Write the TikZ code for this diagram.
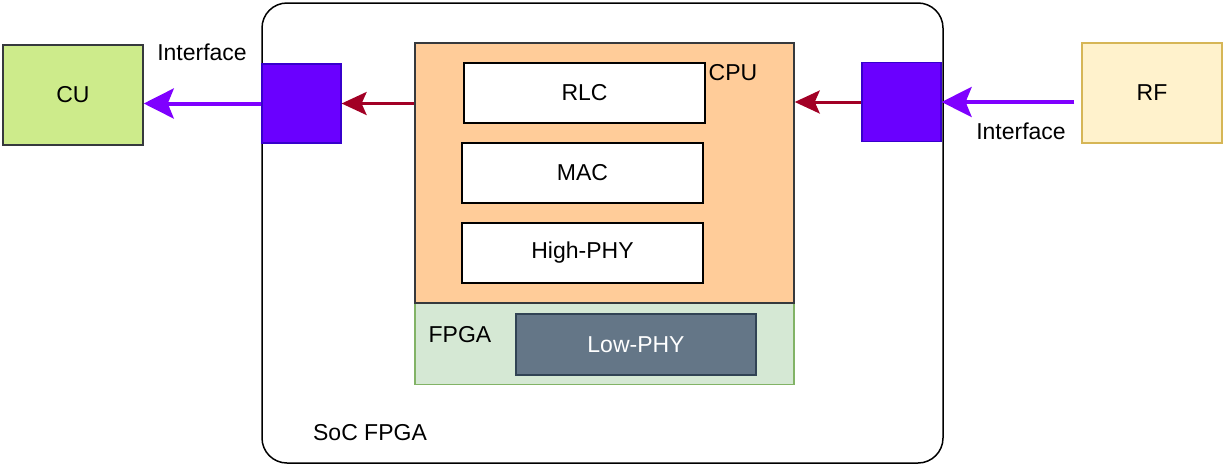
\documentclass[tikz,border=0pt]{standalone}
\usepackage{fontspec}
\setmainfont{Liberation Sans}
\usetikzlibrary{arrows.meta}
\definecolor{cugreen}{HTML}{CDEB8B}
\definecolor{darkline}{HTML}{36393D}
\definecolor{cpuorange}{HTML}{FFCC99}
\definecolor{fpgagreen}{HTML}{D5E8D4}
\definecolor{fpgaline}{HTML}{82B366}
\definecolor{lowfill}{HTML}{647687}
\definecolor{lowline}{HTML}{314354}
\definecolor{rffill}{HTML}{FFF2CC}
\definecolor{rfline}{HTML}{D6B656}
\definecolor{ifblue}{HTML}{6A00FF}
\definecolor{ifline}{HTML}{3700CC}
\definecolor{ifarrow}{HTML}{7F00FF}
\definecolor{redarrow}{HTML}{A20025}
\tikzset{
  blk/.style={draw=darkline, line width=1.5pt, minimum width=#1, inner sep=0pt},
  layer/.style={draw=black, line width=1.5pt, fill=white, minimum width=241pt, minimum height=60pt, inner sep=0pt},
  ifbox/.style={draw=ifline, line width=1.2pt, fill=ifblue, minimum width=79pt, minimum height=79pt, inner sep=0pt},
  ifconn/.style={draw=ifarrow, line width=4pt, -{Stealth[length=30pt, width=30pt, inset=6pt]}},
  cpuconn/.style={draw=redarrow, line width=3pt, -{Stealth[length=25pt, width=23pt, inset=5pt]}},
}
\begin{document}
\begin{tikzpicture}[x=1pt, y=-1pt, font=\fontsize{23}{27}\selectfont]
\useasboundingbox (0,0) rectangle (1225,472);
% outer SoC box
\draw[line width=1.5pt, rounded corners=25pt] (262,3) rectangle (943,463);
\node (soc) at (370,433) {SoC FPGA};
% fpga and cpu parts
\node[draw=fpgaline, line width=1.5pt, fill=fpgagreen, minimum width=379pt, minimum height=81pt, inner sep=0pt] (fpga) at (604.5,344) {};
\node[blk=379pt, minimum height=260pt, fill=cpuorange] (cpu) at (604.5,173) {};
\node (cpulbl) at (733,73) {CPU};
\node (fpgalbl) at (460,335) {FPGA};
\node[layer] (rlc) at (584.5,93) {RLC};
\node[layer] (mac) at (582.5,173) {MAC};
\node[layer] (hphy) at (582.5,253) {High-PHY};
\node[draw=lowline, line width=1.5pt, fill=lowfill, text=white, minimum width=240pt, minimum height=61pt, inner sep=0pt] (lphy) at (636,344.5) {Low-PHY};
% interfaces
\node[ifbox] (ifl) at (301.5,103.5) {};
\node[ifbox] (ifr) at (901.5,102) {};
\node[blk=140pt, minimum height=100pt, fill=cugreen] (cu) at (73,95) {CU};
\node[draw=rfline, line width=1.5pt, fill=rffill, minimum width=140pt, minimum height=100pt, inner sep=0pt] (rf) at (1152,93) {RF};
\node (ifltxt) at (202,52) {Interface};
\node (ifrtxt) at (1021,131) {Interface};
% connectors
\draw[cpuconn] (cpu.west |- ifl.east) -- (ifl.east);
\draw[cpuconn] (ifr.west) -- (cpu.east |- ifr.west);
\draw[ifconn] (ifl.west) -- (cu.east |- ifl.west);
\draw[ifconn] (rf.west |- ifr.east) ++(-7,0) -- (ifr.east);
\end{tikzpicture}
\end{document}
